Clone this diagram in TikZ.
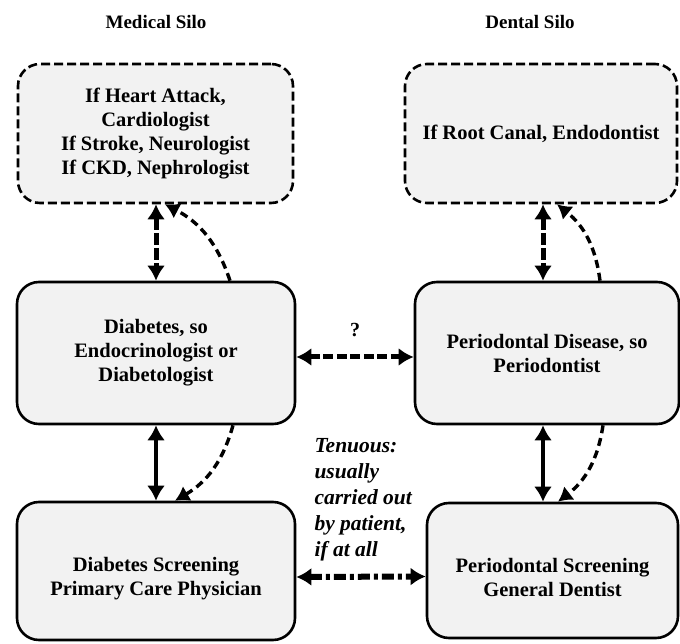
\documentclass[tikz,border=0pt]{standalone}
\usepackage{fontspec}
\setmainfont{Liberation Serif}
\usetikzlibrary{arrows.meta}

\begin{document}
\begin{tikzpicture}[x=1pt,y=1pt,
        silo/.style={draw, line width=2.6pt, fill=black!5, rounded corners=22pt,
            align=center, font=\fontsize{20.5}{24}\selectfont\bfseries},
        referral/.style={silo, dash pattern=on 9pt off 4pt},
        title/.style={font=\fontsize{19}{22}\selectfont\bfseries},
        tip/.style={{Latex[length=15pt,width=18pt]}-{Latex[length=15pt,width=18pt]}},
        onetip/.style={-{Latex[length=14pt,width=17pt]}},
        vdash/.style={tip, line width=5pt, dash pattern=on 12pt off 3pt},
        vsolid/.style={tip, line width=4pt},
        hdash/.style={tip, line width=5pt, dash pattern=on 10pt off 3.5pt},
        hdashdot/.style={tip, line width=6pt, dash pattern=on 12pt off 4pt on 4pt off 4pt},
        back/.style={onetip, line width=3.4pt, dash pattern=on 8pt off 5pt}
    ]

        \useasboundingbox (0,0) rectangle (680,643);

        \node (medtitle) [title] at (156,621) {Medical Silo};
        \node (dentitle) [title] at (530,621) {Dental Silo};

        \node (cardio) [referral, minimum width=275pt, minimum height=139pt] at (155.5,509.5)
            {If Heart Attack,\\Cardiologist\\If Stroke, Neurologist\\If CKD, Nephrologist};
        \node (endo) [referral, minimum width=272pt, minimum height=139pt] at (541,509.5)
            {If Root Canal, Endodontist};

        \node (diab) [silo, minimum width=278pt, minimum height=142pt] at (156,290)
            {Diabetes, so\\Endocrinologist or\\Diabetologist};
        \node (perio) [silo, minimum width=264pt, minimum height=142pt] at (547,290)
            {Periodontal Disease, so\\Periodontist};

        \node (pcp) [silo, minimum width=278pt, minimum height=138pt] at (156,72)
            {\strut\\[-12pt]Diabetes Screening\\Primary Care Physician};
        \node (gendent) [silo, minimum width=251pt, minimum height=135pt] at (552.5,72.5)
            {\strut\\[-12pt]Periodontal Screening\\General Dentist};

        \draw[vdash] (cardio.south -| diab.north) -- (diab.north);
        \draw[back] ([xshift=74pt]diab.north) to[bend right=22] ([xshift=9.5pt]cardio.south);
        \draw[vdash] ([xshift=-4pt]perio.north |- endo.south) -- ([xshift=-4pt]perio.north);
        \draw[back] ([xshift=53pt]perio.north) to[bend right=22] ([xshift=16pt]endo.south);

        \draw[vsolid] (diab.south) -- (diab.south |- pcp.north);
        \draw[back] ([xshift=77pt]diab.south) to[bend left=22] ([xshift=19pt]pcp.north);
        \draw[vsolid] ([xshift=-4pt]perio.south) -- ([xshift=-4pt]perio.south |- gendent.north);
        \draw[back] ([xshift=56pt]perio.south) to[bend left=22] ([xshift=5.5pt]gendent.north);

        \draw[hdash] ([yshift=-4pt]diab.east) -- node (unknown) [above=14pt, font=\fontsize{20}{22}\selectfont\bfseries] {?} ([yshift=-4pt]perio.west);
        \draw[hdashdot] ([yshift=-6pt]pcp.east) -- ([yshift=-6pt]gendent.west);

        \node (tenuous) [anchor=west, align=left, font=\fontsize{21.5}{26}\selectfont\bfseries\itshape] at (311,143)
            {Tenuous:\\usually\\carried out\\by patient,\\if at all};

    \end{tikzpicture}
\end{document}
